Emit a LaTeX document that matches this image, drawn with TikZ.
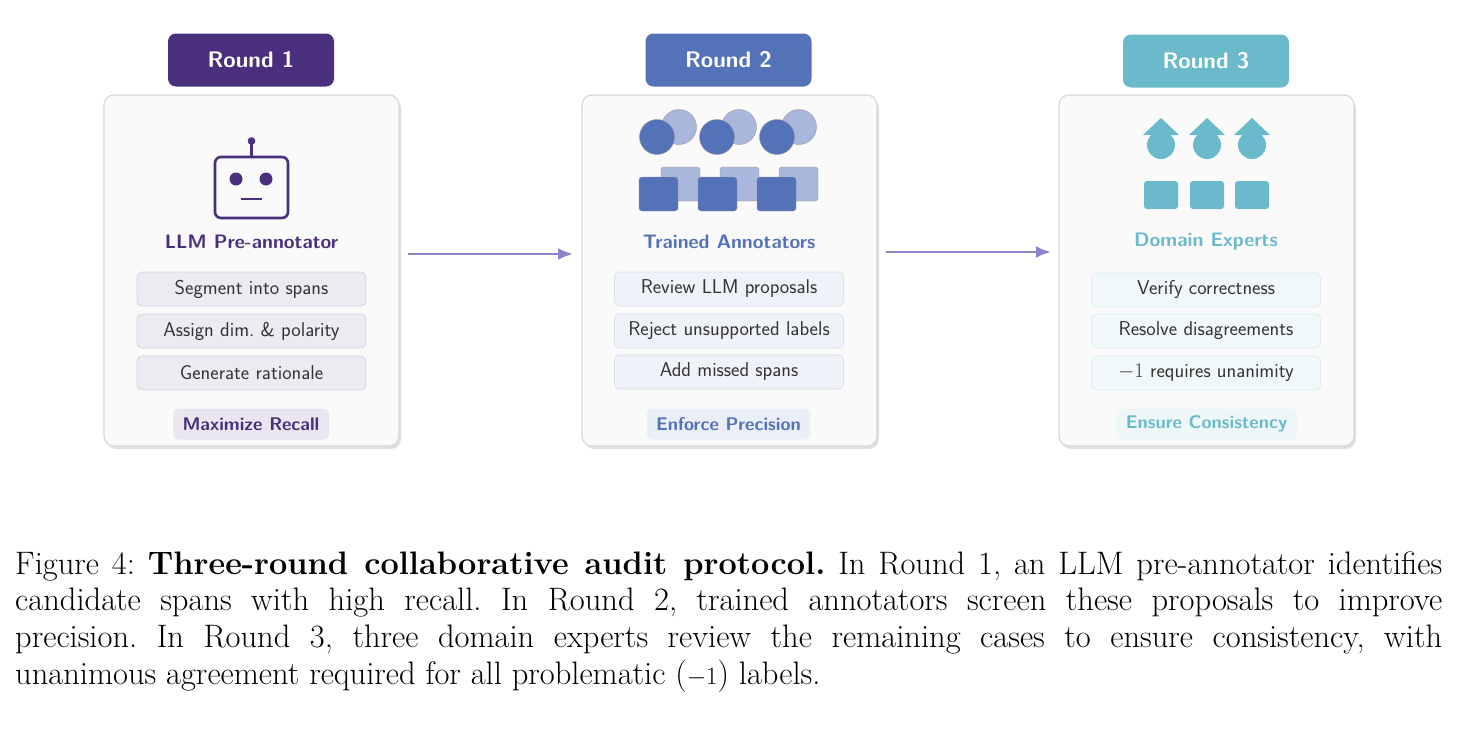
\documentclass[tikz,border=0pt]{standalone}
\usetikzlibrary{arrows.meta}
\begin{document}
\begin{tikzpicture}[x=1pt,y=-1pt,
  panel/.style={draw=black!15,line width=1.2pt,fill=black!2,rounded corners=10pt},
  tab/.style={rounded corners=8pt,text=white,font=\sffamily\bfseries\fontsize{22.5}{26}\selectfont,minimum width=166pt,minimum height=53pt,inner sep=0},
  item/.style={rounded corners=5pt,line width=0.8pt,minimum width=229pt,minimum height=34pt,inner sep=0,font=\sffamily\fontsize{20}{23}\selectfont,text=black!80},
  badge/.style={rounded corners=5pt,minimum height=31pt,inner sep=0,font=\sffamily\bfseries\fontsize{18.3}{21}\selectfont},
  ttl/.style={font=\sffamily\bfseries\fontsize{19.5}{22}\selectfont},
  flow/.style={draw=arr,line width=2.6pt,-{Latex[length=15pt,width=12pt]}}]
\definecolor{pur}{HTML}{4A2F7C}\definecolor{blu}{HTML}{5472B8}\definecolor{tea}{HTML}{6BBACB}
\definecolor{lblu}{HTML}{A9B7DC}\definecolor{arr}{HTML}{8A85C8}
\useasboundingbox (0,0) rectangle (1457,747);
% panels
\foreach \x/\n in {104/p1,582/p2,1059/p3}{
  \fill[black!12,rounded corners=10pt] (\x+2,98) rectangle (\x+297,449);
  \draw[panel] (\x,95) rectangle (\x+295,446);
  \coordinate (\n) at (\x+147.5,270);}
\node[tab,fill=pur] (r1) at (251,60) {Round 1};
\node[tab,fill=blu] (r2) at (728.5,60) {Round 2};
\node[tab,fill=tea] (r3) at (1206,61) {Round 3};
% robot
\draw[pur,line width=2.6pt,rounded corners=6pt] (215,157) rectangle (288,218);
\draw[pur,line width=2.2pt] (251.5,157) -- (251.5,143);
\fill[pur] (251.5,141) circle (3.8) (236,179) circle (6.5) (266,179) circle (6.5);
\draw[pur,line width=1.8pt] (241,199) -- (262,199);
% panel 2 icons
\foreach \d in {0,60,120}{
  \draw[fill=lblu,draw=black!40,line width=0.4pt] (679+\d,127) circle (17.5);
  \draw[fill=blu,draw=black!40,line width=0.4pt] (657+\d,137) circle (17.5);}
\foreach \d in {0,59,118}{
  \draw[fill=lblu,draw=black!40,line width=0.4pt,rounded corners=3pt] (661+\d,167) rectangle (700+\d,201);
  \draw[fill=blu,draw=black!40,line width=0.4pt,rounded corners=3pt] (639+\d,177) rectangle (678+\d,211);}
% panel 3 icons
\foreach \c in {1161,1207,1252}{
  \fill[tea] (\c,145) circle (14);
  \fill[tea] (\c-18,135) -- (\c,118) -- (\c+18,135) -- cycle;
  \fill[tea,rounded corners=3pt] (\c-17,181) rectangle (\c+17,209);}
% titles
\node[ttl,text=pur] (t1) at (251.5,242) {LLM Pre-annotator};
\node[ttl,text=blu] (t2) at (729,242) {Trained Annotators};
\node[ttl,text=tea] (t3) at (1206,242) {Domain Experts};
% items
\tikzset{i1/.style={item,fill=pur!10,draw=pur!22},i2/.style={item,fill=blu!9,draw=blu!22},i3/.style={item,fill=tea!10,draw=tea!25}}
\node[i1] (a1) at (251.5,289) {Segment into spans};
\node[i1] (a2) at (251.5,331) {Assign dim.\ \& polarity};
\node[i1] (a3) at (251.5,373) {Generate rationale};
\node[i2] (b1) at (729,289) {Review LLM proposals};
\node[i2] (b2) at (729,331) {Reject unsupported labels};
\node[i2] (b3) at (729,372) {Add missed spans};
\node[i3] (c1) at (1206,290) {Verify correctness};
\node[i3] (c2) at (1206,331) {Resolve disagreements};
\node[i3] (c3) at (1206,373) {$-1$ requires unanimity};
\node[badge,fill=pur!12,text=pur,minimum width=156pt] (m1) at (251,424) {Maximize Recall};
\node[badge,fill=blu!12,text=blu,minimum width=163pt] (m2) at (728.5,424) {Enforce Precision};
\node[badge,fill=tea!12,text=tea,minimum width=181pt] (m3) at (1206.5,424) {Ensure Consistency};
% arrows
\coordinate (e1) at (408,254); \coordinate (f1) at (573,254);
\coordinate (e2) at (886,252); \coordinate (f2) at (1051,252);
\draw[flow] (e1) -- (f1);
\draw[flow] (e2) -- (f2);
% caption
\node[anchor=north west,text width=1427pt,align=justify,inner sep=0,font=\fontsize{32.5}{36.8}\selectfont\frenchspacing] (cap) at (15,551)
{Figure 4: \textbf{Three-round collaborative audit protocol.} In Round 1, an LLM pre-annotator identifies\linebreak candidate spans with high recall. In Round 2, trained annotators screen these proposals to improve\linebreak precision. In Round 3, three domain experts review the remaining cases to ensure consistency, with\linebreak unanimous agreement required for all problematic ($-1$) labels.};
\end{tikzpicture}
\end{document}
